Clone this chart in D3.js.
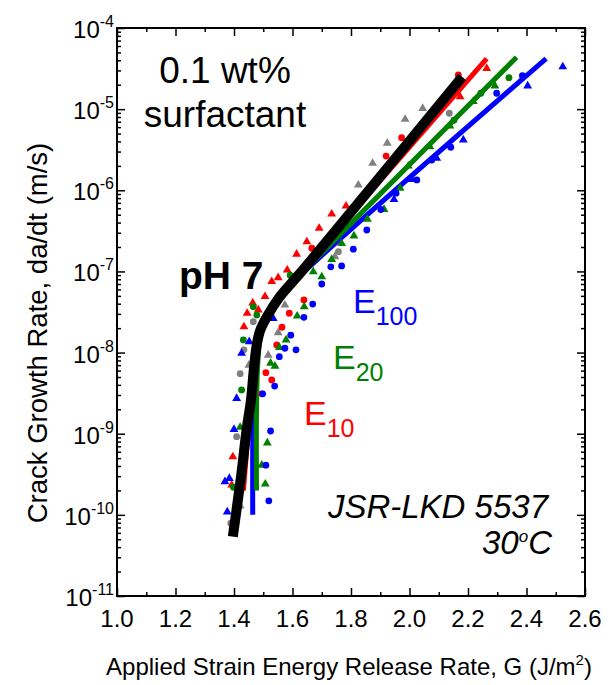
<!DOCTYPE html>
<html>
<head>
<meta charset="utf-8">
<script src="https://cdn.jsdelivr.net/npm/d3@7"></script>
<style>
  body { margin: 0; background: #fff; }
  svg text { font-family: Arial, "Liberation Sans", sans-serif; fill: #000; }
</style>
</head>
<body>
<div id="chart"></div>
<script>
// Data: [G (J/m^2), da/dt (m/s)]
const grayCircles = [[1.466, 2.4e-8], [1.434, 1.08e-8], [1.421, 5.5e-9], [1.757, 1.75e-7],
  [1.409, 9.2e-10], [1.389, 7.9e-11], [2.136, 8.9e-6]];
const grayTriangles = [[1.574, 3.85e-8], [1.551, 1.76e-8], [1.517, 9.3e-9], [1.451, 7.0e-9],
  [1.985, 7.5e-6], [1.924, 3.8e-6], [1.874, 2.15e-6], [1.825, 1.16e-6], [1.745, 1.52e-7],
  [2.045, 1.02e-5], [1.421, 1.29e-10]];
const redCircles = [[1.639, 4.45e-8], [1.589, 3.05e-8], [1.564, 2.05e-8], [1.546, 1.24e-8],
  [1.509, 5.65e-9], [1.529, 4.6e-9], [1.495, 3.1e-9], [1.666, 1.93e-7], [1.973, 4.45e-6],
  [1.920, 2.64e-6], [2.167, 2.64e-5]];
const redTriangles = [[1.649, 2.32e-7], [1.614, 1.63e-7], [1.582, 1.04e-7], [1.551, 8.4e-8],
  [1.529, 7.5e-8], [1.506, 4.9e-8], [1.483, 3.35e-8], [1.464, 4.1e-8], [1.445, 3.05e-8],
  [1.434, 2.08e-8], [1.783, 6.4e-7], [1.734, 5.1e-7], [1.691, 3.4e-7], [1.396, 5.2e-10],
  [1.392, 2.33e-10], [2.264, 3.18e-5], [2.173, 1.42e-5]];
const greenCircles = [[1.466, 3.67e-8], [1.432, 1.43e-8], [1.426, 3.46e-9], [1.398, 2.19e-10],
  [2.340, 2.44e-5], [2.244, 1.57e-5], [2.152, 7.3e-6], [1.592, 9.0e-8], [1.478, 2.9e-8]];
const greenTriangles = [[1.640, 3.67e-8], [1.616, 2.82e-8], [1.578, 1.43e-8], [1.555, 1.16e-8],
  [1.525, 7.4e-9], [1.540, 6.8e-9], [1.856, 4.4e-7], [1.810, 2.74e-7], [1.768, 2.22e-7],
  [1.734, 1.41e-7], [1.671, 9.9e-8], [1.700, 8.6e-8], [1.913, 5.8e-7], [1.968, 1.06e-6],
  [2.292, 1.93e-5], [2.218, 1.24e-5], [2.138, 6.2e-6], [2.070, 3.44e-6], [1.996, 1.99e-6],
  [1.421, 1.2e-9], [1.514, 7.7e-10], [1.495, 4.1e-10], [1.507, 2.4e-10]];
const blueCircles = [[1.639, 2.72e-8], [1.594, 1.64e-8], [1.574, 1.13e-8], [1.612, 1.08e-8],
  [1.555, 8.9e-9], [1.539, 3.87e-9], [1.498, 3.1e-9], [1.854, 3.24e-7], [1.808, 1.88e-7],
  [1.731, 1.14e-7], [1.768, 1.17e-7], [1.700, 7.0e-8], [1.902, 5.8e-7], [2.025, 1.34e-6],
  [2.298, 1.57e-5], [2.141, 3.39e-6], [2.076, 2.36e-6], [1.954, 9.2e-7], [2.386, 2.58e-5],
  [1.669, 3.96e-8], [1.525, 1.08e-9], [1.509, 4.1e-10], [1.519, 1.49e-10]];
const blueTriangles = [[1.534, 2.64e-8], [1.452, 1.36e-8], [1.426, 9.8e-9], [1.409, 2.73e-9],
  [1.400, 1.13e-9], [1.384, 2.82e-10], [1.369, 2.56e-10], [1.377, 1.09e-10], [2.524, 3.33e-5],
  [2.404, 1.93e-5], [2.184, 4.17e-6], [2.093, 2.48e-6], [2.008, 1.36e-6], [1.947, 7.7e-7]];

// Fitted curves
const blueFit = [[1.464, 1e-10], [1.465, 2e-9], [1.47, 8e-9], [1.485, 1.9e-8], [1.51, 3e-8],
  [1.56, 5e-8], [1.65, 1.07e-7], [2.467, 4.2e-5]];
const greenFit = [[1.477, 2e-10], [1.477, 2e-9], [1.482, 8e-9], [1.495, 2e-8], [1.52, 3.1e-8],
  [1.56, 5e-8], [1.63, 9.3e-8], [2.366, 4.35e-5]];
const redFit = [[1.432, 2e-10], [1.45, 1.2e-9], [1.468, 8e-9], [1.49, 2e-8], [1.52, 3e-8],
  [1.56, 5e-8], [1.63, 1e-7], [2.264, 4.2e-5]];
const ph7Fit = [[1.396, 5.4e-11], [1.425, 3.16e-10], [1.443, 1.12e-9], [1.458, 2.6e-9],
  [1.468, 6.3e-9], [1.478, 1.26e-8], [1.49, 1.9e-8], [1.512, 2.75e-8], [1.557, 4.9e-8],
  [1.626, 9.5e-8], [1.74, 2.95e-7], [2.18, 2.5e-5]];

const xTicks = [1.0, 1.2, 1.4, 1.6, 1.8, 2.0, 2.2, 2.4, 2.6];
const yExponents = [-4, -5, -6, -7, -8, -9, -10, -11];

const width = 612, height = 685;
const plot = { left: 117, right: 585, top: 28, bottom: 596 };

const svg = d3.select("#chart").append("svg")
  .attr("width", width).attr("height", height);

const x = d3.scaleLinear().domain([1.0, 2.6]).range([plot.left, plot.right]);
const y = d3.scaleLog().domain([1e-11, 1e-4]).range([plot.bottom, plot.top]);

const colors = { gray: "#808080", red: "#ff0000", green: "#008000", blue: "#0000ff" };

drawAxes();

// fitted lines under markers, pH 7 on top
const line = d3.line().x(d => x(d[0])).y(d => y(d[1])).curve(d3.curveCatmullRom.alpha(0.5));
[[blueFit, colors.blue], [greenFit, colors.green], [redFit, colors.red]].forEach(([pts, c]) => {
  svg.append("path").datum(pts)
    .attr("d", line).attr("fill", "none").attr("stroke", c)
    .attr("stroke-width", 5);
});

drawMarkers(grayCircles, colors.gray, "circle");
drawMarkers(grayTriangles, colors.gray, "triangle");
drawMarkers(redCircles, colors.red, "circle");
drawMarkers(redTriangles, colors.red, "triangle");
drawMarkers(greenCircles, colors.green, "circle");
drawMarkers(greenTriangles, colors.green, "triangle");
drawMarkers(blueCircles, colors.blue, "circle");
drawMarkers(blueTriangles, colors.blue, "triangle");

svg.append("path").datum(ph7Fit)
  .attr("d", line).attr("fill", "none").attr("stroke", "#000")
  .attr("stroke-width", 10);

drawAnnotations();

function drawMarkers(data, color, shape) {
  const g = svg.append("g").attr("fill", color);
  if (shape === "circle") {
    g.selectAll("circle").data(data).join("circle")
      .attr("cx", d => x(d[0])).attr("cy", d => y(d[1])).attr("r", 3.4);
  } else {
    const tri = d3.symbol(d3.symbolTriangle, 34);
    g.selectAll("path").data(data).join("path")
      .attr("d", tri)
      .attr("transform", d => `translate(${x(d[0])},${y(d[1])})`);
  }
}

function drawAxes() {
  const minorX = d3.range(10, 27).map(v => v / 10).filter(v => !xTicks.some(t => Math.abs(t - v) < 1e-9));
  const minorY = [];
  for (let e = -11; e < -4; e++) {
    for (let m = 2; m <= 9; m++) minorY.push(m * Math.pow(10, e));
  }
  const majorY = yExponents.map(e => Math.pow(10, e));

  const axes = [
    [d3.axisBottom(x), `translate(0,${plot.bottom})`, xTicks, minorX],
    [d3.axisTop(x), `translate(0,${plot.top})`, xTicks, minorX],
    [d3.axisLeft(y), `translate(${plot.left},0)`, majorY, minorY],
    [d3.axisRight(y), `translate(${plot.right},0)`, majorY, minorY],
  ];
  axes.forEach(([axis, tr, major, minor]) => {
    svg.append("g").attr("transform", tr)
      .call(axis.tickValues(major).tickSize(-8).tickFormat(""))
      .call(g => g.select(".domain").remove())
      .selectAll("line").attr("stroke-width", 1.5);
    svg.append("g").attr("transform", tr)
      .call(axis.tickValues(minor).tickSize(-4).tickFormat(""))
      .call(g => g.select(".domain").remove())
      .selectAll("line").attr("stroke-width", 1.5);
  });

  svg.append("rect")
    .attr("x", plot.left).attr("y", plot.top)
    .attr("width", plot.right - plot.left).attr("height", plot.bottom - plot.top)
    .attr("fill", "none").attr("stroke", "#000").attr("stroke-width", 2);

  // tick labels
  svg.append("g").selectAll("text").data(xTicks).join("text")
    .attr("x", d => x(d)).attr("y", 627)
    .attr("text-anchor", "middle").attr("font-size", 24)
    .text(d => d.toFixed(1));

  const yl = svg.append("g").selectAll("text").data(yExponents).join("text")
    .attr("x", 114).attr("y", d => y(Math.pow(10, d)) + 10)
    .attr("text-anchor", "end").attr("font-size", 24);
  yl.append("tspan").text("10");
  yl.append("tspan").attr("dy", -11).attr("font-size", 16).text(d => String(d));

  // axis titles
  const xt = svg.append("text")
    .attr("x", 349).attr("y", 675).attr("text-anchor", "middle")
    .attr("font-size", 24);
  xt.append("tspan").text("Applied Strain Energy Release Rate, G (J/m");
  xt.append("tspan").attr("dy", -10).attr("font-size", 15).text("2");
  xt.append("tspan").attr("dy", 10).text(")");

  svg.append("text")
    .attr("transform", "translate(47,333) rotate(-90)")
    .attr("text-anchor", "middle").attr("font-size", 27.5)
    .text("Crack Growth Rate, da/dt (m/s)");
}

function drawAnnotations() {
  svg.append("text").attr("x", 225).attr("y", 83).attr("text-anchor", "middle")
    .attr("font-size", 37).text("0.1 wt%");
  svg.append("text").attr("x", 225).attr("y", 127).attr("text-anchor", "middle")
    .attr("font-size", 37).text("surfactant");

  svg.append("text").attr("x", 179).attr("y", 289)
    .attr("font-size", 39).attr("font-weight", "bold").text("pH 7");

  const eLabels = [
    { x: 353, y: 313, sub: "100", color: colors.blue },
    { x: 333, y: 369, sub: "20", color: colors.green },
    { x: 304, y: 425, sub: "10", color: colors.red },
  ];
  eLabels.forEach(l => {
    const t = svg.append("text").attr("x", l.x).attr("y", l.y)
      .attr("font-size", 34).style("fill", l.color);
    t.append("tspan").text("E");
    t.append("tspan").attr("dy", 12).attr("font-size", 25).style("fill", l.color).text(l.sub);
  });

  svg.append("text").attr("x", 548).attr("y", 518).attr("text-anchor", "end")
    .attr("font-size", 33).attr("font-style", "italic").text("JSR-LKD 5537");
  const tc = svg.append("text").attr("x", 552).attr("y", 554).attr("text-anchor", "end")
    .attr("font-size", 33).attr("font-style", "italic");
  tc.append("tspan").text("30");
  tc.append("tspan").attr("dy", -12).attr("font-size", 17).text("o");
  tc.append("tspan").attr("dy", 12).text("C");
}
</script>
</body>
</html>
